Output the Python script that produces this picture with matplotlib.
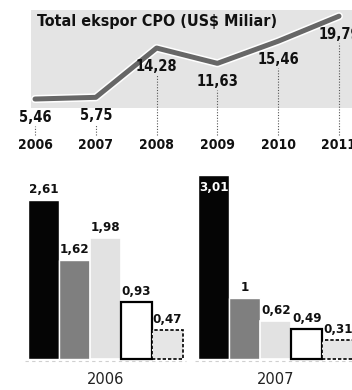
"""Total ekspor CPO chart recreation."""

import matplotlib

matplotlib.use("Agg")
import matplotlib.pyplot as plt
import matplotlib.patheffects as pe
import numpy as np
from matplotlib.patches import Rectangle

years = [2006, 2007, 2008, 2009, 2010, 2011]
export_values = [5.46, 5.75, 14.28, 11.63, 15.46, 19.79]
export_labels = ["5,46", "5,75", "14,28", "11,63", "15,46", "19,79"]

group_names = ["2006", "2007"]
values_2006 = [2.61, 1.62, 1.98, 0.93, 0.47]
values_2007 = [3.01, 1.00, 0.62, 0.49, 0.31]
labels_2006 = ["2,61", "1,62", "1,98", "0,93", "0,47"]
labels_2007 = ["3,01", "1", "0,62", "0,49", "0,31"]

bar_styles = [
    dict(facecolor="#050505", edgecolor="white", linewidth=1.0),
    dict(facecolor="#7f7f7f", edgecolor="white", linewidth=1.0),
    dict(facecolor="#e2e2e2", edgecolor="white", linewidth=1.2),
    dict(facecolor="white", edgecolor="black", linewidth=1.6),
    dict(facecolor="#e6e6e6", edgecolor="black", linewidth=1.2, linestyle=(0, (2, 1.2))),
]

COND = dict(family="DejaVu Sans", fontstretch="condensed", fontweight="bold")

fig = plt.figure(figsize=(3.52, 3.90), dpi=100)

# top panel: line chart
ax_top = fig.add_axes([0, 1 - 160 / 390, 1, 160 / 390])
ax_top.set_xlim(2005.424, 2011.214)
ax_top.set_ylim(-5.09, 22.59)
ax_top.axis("off")
ax_top.add_patch(Rectangle((2005.934, 3.90), 6.0, 16.96, facecolor="#e4e4e4",
                           edgecolor="none", zorder=0))
ax_top.text(2006.03, 18.9, "Total ekspor CPO (US$ Miliar)", fontsize=11.5,
            va="center", ha="left", color="#111111", **COND)
ax_top.plot(years, export_values, color="#676767", linewidth=3.6,
            solid_capstyle="round", solid_joinstyle="round", zorder=3,
            path_effects=[pe.Stroke(linewidth=5.8, foreground="white"), pe.Normal()])
for yr, val, lab in zip(years, export_values, export_labels):
    ax_top.annotate(lab, (yr, val), xytext=(0, -13), textcoords="offset points",
                    ha="center", va="center", fontsize=10.5, color="#111111", **COND)
    ax_top.text(yr, -2.5, str(yr), ha="center", va="center", fontsize=10,
                color="#111111", **COND)
ax_top.vlines(years, -0.77, [v - 4.6 for v in export_values], colors="#555555",
              linestyles=(0, (1, 1.5)), linewidth=0.8, zorder=1)

# bottom panel: grouped bars
ax_bot = fig.add_axes([0, 0, 1, 230 / 390])
ax_bot.set_xlim(-1.403, 9.952)
ax_bot.set_ylim(-0.508, 3.262)
ax_bot.axis("off")

group_offsets = [0.0, 5.5]
for name, offset, vals, labs in zip(group_names, group_offsets,
                                    [values_2006, values_2007],
                                    [labels_2006, labels_2007]):
    xs = offset + np.arange(len(vals))
    ax_bot.hlines(-0.04, xs[0] - 0.6, xs[-1] + 0.6, colors="#d0d0d0",
                  linestyles=(0, (3, 3)), linewidth=0.8, zorder=0)
    for i, (x, v, lab) in enumerate(zip(xs, vals, labs)):
        ax_bot.bar(x, v, width=1.0, zorder=2 + i, **bar_styles[i])
        if v + 0.3 > ax_bot.get_ylim()[1]:
            ax_bot.text(x, v - 0.1, lab, ha="center", va="top", fontsize=9.5,
                        color="white", zorder=10, **COND)
        else:
            ax_bot.annotate(lab, (x, v), xytext=(0, 3), textcoords="offset points",
                            ha="center", va="bottom", fontsize=9.5,
                            color="#111111", zorder=10, **COND)
    ax_bot.text(xs.mean(), -0.34, name, ha="center", va="center", fontsize=10.5,
                color="#222222")

fig.savefig("out.png", dpi=100)
plt.close(fig)
